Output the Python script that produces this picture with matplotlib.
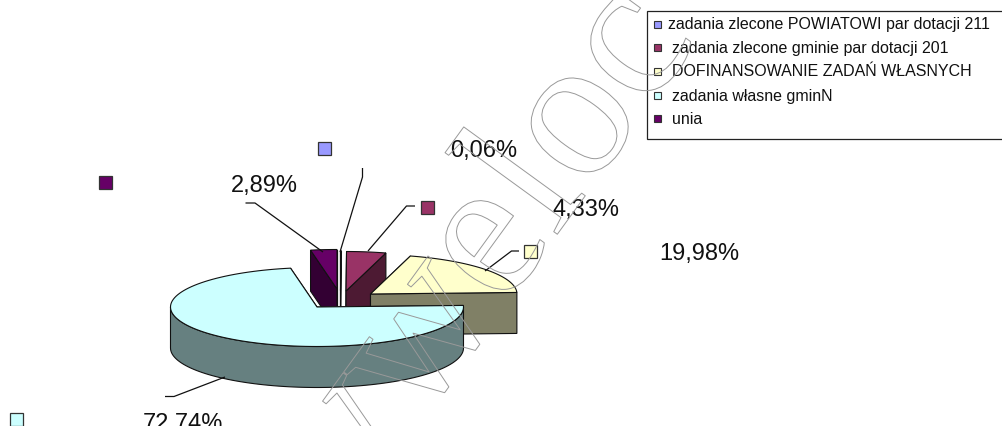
import numpy as np
import matplotlib
matplotlib.use("Agg")
import matplotlib.pyplot as plt
from matplotlib.patches import Polygon, Rectangle
import matplotlib.patheffects as pe

# ---- data ----
categories = ["zadania zlecone POWIATOWI par dotacji 211",
              "zadania zlecone gminie par dotacji 201",
              "DOFINANSOWANIE ZADAŃ WŁASNYCH",
              "zadania własne gminN",
              "unia"]
values = [0.06, 4.33, 19.98, 72.74, 2.89]
value_labels = ["0,06%", "4,33%", "19,98%", "72,74%", "2,89%"]

# ---- styles / layout (pixels) ----
top_colors = ["#9999FF", "#993366", "#FFFFCC", "#CCFFFF", "#660066"]
wall_colors = ["#4D4D80", "#4D1A33", "#808066", "#668080", "#330033"]
apexes = [(340.5, 291), (346, 292), (370.5, 295), (317, 308), (337, 290)]
RX, RY, DEPTH = 146.5, 39.5, 41
draw_order = [4, 0, 1, 2, 3]
label_pos = [(450, 151), (553, 210), (659, 254), (143, 424), (231, 186)]
swatch_pos = [(318, 143), (421, 202), (524, 246), (10, 414), (99, 177)]
leaders = [[(362.5, 169), (362.5, 178), (340, 253)],
           [(415, 207), (406.5, 207), (368, 252)],
           [(519, 252), (511.5, 252), (485, 272)],
           [(165, 397.5), (174, 397.5), (225, 378)],
           [(245.5, 204), (255, 204), (323, 253)]]
legend_x = [668, 672, 672, 672, 672]
legend_y = [25, 48, 72, 96, 119]
EDGE = "#111111"

fig = plt.figure(figsize=(10.02, 4.27), dpi=100)
ax = fig.add_axes([0, 0, 1, 1])
ax.set_xlim(0, 1002)
ax.set_ylim(427, 0)
ax.axis("off")
plt.rcParams["font.family"] = ["Liberation Sans", "DejaVu Sans"]


def rim(apex, deg):
    t = np.radians(deg)
    return np.column_stack([apex[0] + RX * np.sin(t), apex[1] - RY * np.cos(t)])


total = sum(values)
edges = np.concatenate([[0], np.cumsum(values)]) / total * 360
for z, i in enumerate(draw_order):
    a, b = edges[i], edges[i + 1]
    apex = apexes[i]
    base = 2 + z * 0.1
    for t in (a, b):
        r = rim(apex, np.array([t]))[0]
        quad = [r, apex, (apex[0], apex[1] + DEPTH), (r[0], r[1] + DEPTH)]
        ax.add_patch(Polygon(quad, closed=True, fc=wall_colors[i], ec=EDGE, lw=0.8, zorder=base))
    lo, hi = max(a, 90), min(b, 270)
    if hi > lo:
        arc = rim(apex, np.linspace(lo, hi, 90))
        wall = np.vstack([arc, arc[::-1] + [0, DEPTH]])
        ax.add_patch(Polygon(wall, closed=True, fc=wall_colors[i], ec=EDGE, lw=0.8, zorder=base))
    top = np.vstack([[apex], rim(apex, np.linspace(a, b, 120))])
    ax.add_patch(Polygon(top, closed=True, fc=top_colors[i], ec=EDGE, lw=0.8, zorder=base + 0.05))

for pts in leaders:
    xs, ys = zip(*pts)
    ax.plot(xs, ys, color=EDGE, lw=0.9, zorder=4, solid_capstyle="butt")

for (x, y), c in zip(swatch_pos, top_colors):
    ax.add_patch(Rectangle((x, y), 13, 13, fc=c, ec="#333333", lw=0.9, zorder=5))
for (x, y), s in zip(label_pos, value_labels):
    ax.text(x, y, s, fontsize=17, ha="left", va="center", color="#111111", zorder=5)

# legend
ax.add_patch(Rectangle((647, 11.5), 400, 128, fc="white", ec="#222222", lw=0.9, zorder=6, clip_on=True))
for s, c, x, y in zip(categories, top_colors, legend_x, legend_y):
    ax.add_patch(Rectangle((654, y - 3.5), 7, 7, fc=c, ec="#333333", lw=0.8, zorder=7))
    ax.text(x, y, s, fontsize=11.5, ha="left", va="center", color="#111111", zorder=7)

# watermark
ax.text(333, 544, "wweloc", fontsize=144, rotation=54, rotation_mode="anchor",
        family="Liberation Serif", color="none", ha="left", va="baseline", zorder=9,
        path_effects=[pe.Stroke(linewidth=0.7, foreground="#999999")])

fig.savefig("out.png", dpi=100)
